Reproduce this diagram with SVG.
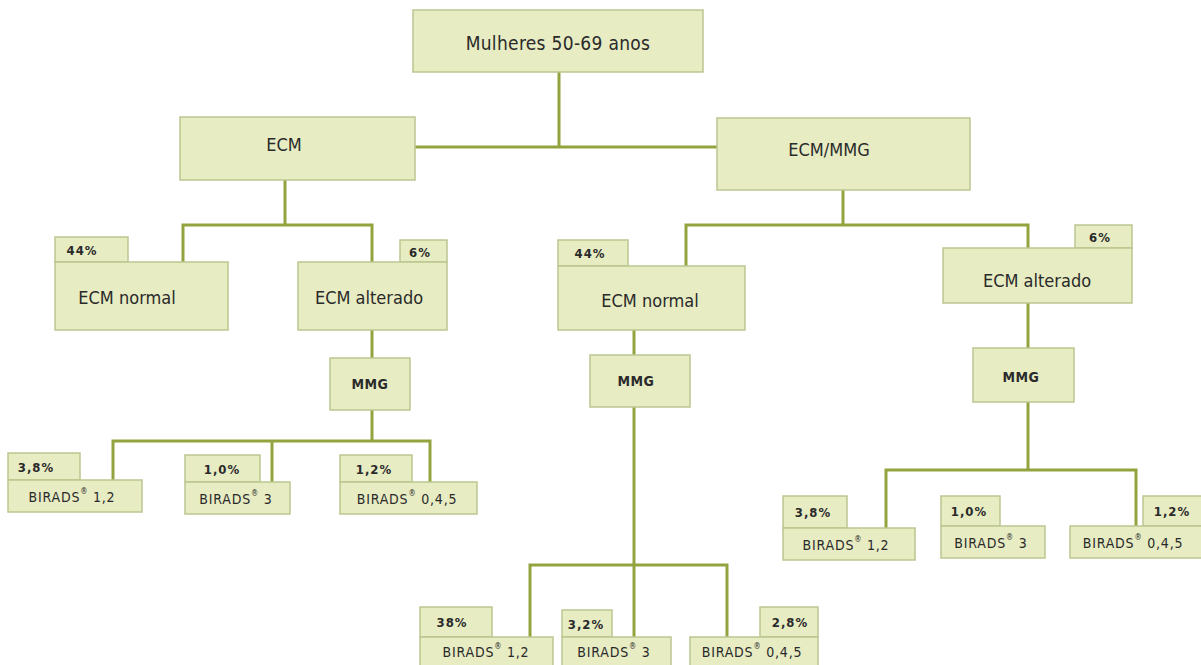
<svg xmlns="http://www.w3.org/2000/svg" width="1201" height="665" viewBox="0 0 1201 665">
<style>
.box{fill:#e7ecc3;stroke:#bcc690;stroke-width:1.5}
.c{fill:none;stroke:#93a43e;stroke-width:3}
text{font-family:'DejaVu Sans Condensed','DejaVu Sans',sans-serif;fill:#2a2a2a;text-anchor:middle;dominant-baseline:central}
.top{font-size:19px;letter-spacing:0.3px}
.big{font-size:18px}
.mid{font-size:14px;font-weight:bold;letter-spacing:0.5px}
.pct{font-size:13px;font-weight:bold;letter-spacing:1px}
.sm{font-size:14px;letter-spacing:0.8px}
.sup{font-size:8px}
</style>
<rect width="1201" height="665" fill="#fff"/>
<g id="connectors">
<path class="c" d="M559 72V147M415 147H717"/>
<path class="c" d="M285 180V225M183 262V225H372V262"/>
<path class="c" d="M843 190V225M686 266V225H1028V248"/>
<path class="c" d="M372 330V358M372 410V441M113 480V441H430V482M272 441V482"/>
<path class="c" d="M634 330V355M634 407V637M530 637V565H727V637"/>
<path class="c" d="M1028 303V348M1028 402V470M886 528V470H1136V526"/>
</g>
<g id="n-top"><rect class="box" x="413" y="10" width="290" height="62"/><text class="top" x="558" y="43">Mulheres 50-69 anos</text></g>
<g id="n-ecm"><rect class="box" x="180" y="117" width="235" height="63"/><text class="big" x="284" y="144">ECM</text></g>
<g id="n-ecmmmg"><rect class="box" x="717" y="118" width="253" height="72"/><text class="big" x="829" y="149">ECM/MMG</text></g>

<g id="n-l-normal"><rect class="box" x="55" y="237" width="73" height="25"/><text class="pct" x="82" y="250">44%</text><rect class="box" x="55" y="262" width="173" height="68"/><text class="big" x="127" y="297">ECM normal</text></g>
<g id="n-l-alt"><rect class="box" x="400" y="240" width="47" height="22"/><text class="pct" x="420" y="252">6%</text><rect class="box" x="298" y="262" width="149" height="68"/><text class="big" x="369" y="297">ECM alterado</text></g>
<g id="n-l-mmg"><rect class="box" x="330" y="358" width="80" height="52"/><text class="mid" x="370" y="384">MMG</text></g>

<g id="n-l-b1"><rect class="box" x="8" y="453" width="72" height="27"/><text class="pct" x="36" y="467">3,8%</text><rect class="box" x="8" y="480" width="134" height="32"/><text class="sm" x="72" y="497">BIRADS<tspan class="sup" dy="-6">®</tspan><tspan dy="6"> 1,2</tspan></text></g>
<g id="n-l-b2"><rect class="box" x="185" y="455" width="75" height="27"/><text class="pct" x="222" y="469">1,0%</text><rect class="box" x="185" y="482" width="105" height="32"/><text class="sm" x="236" y="499">BIRADS<tspan class="sup" dy="-6">®</tspan><tspan dy="6"> 3</tspan></text></g>
<g id="n-l-b3"><rect class="box" x="340" y="455" width="72" height="27"/><text class="pct" x="374" y="469">1,2%</text><rect class="box" x="340" y="482" width="137" height="32"/><text class="sm" x="407" y="499">BIRADS<tspan class="sup" dy="-6">®</tspan><tspan dy="6"> 0,4,5</tspan></text></g>

<g id="n-m-normal"><rect class="box" x="558" y="240" width="70" height="26"/><text class="pct" x="590" y="253">44%</text><rect class="box" x="558" y="266" width="187" height="64"/><text class="big" x="650" y="300">ECM normal</text></g>
<g id="n-m-mmg"><rect class="box" x="590" y="355" width="100" height="52"/><text class="mid" x="636" y="381">MMG</text></g>
<g id="n-m-b1"><rect class="box" x="420" y="607" width="72" height="30"/><text class="pct" x="452" y="622">38%</text><rect class="box" x="420" y="637" width="133" height="30"/><text class="sm" x="486" y="652">BIRADS<tspan class="sup" dy="-6">®</tspan><tspan dy="6"> 1,2</tspan></text></g>
<g id="n-m-b2"><rect class="box" x="562" y="610" width="50" height="27"/><text class="pct" x="586" y="624">3,2%</text><rect class="box" x="562" y="637" width="109" height="30"/><text class="sm" x="614" y="652">BIRADS<tspan class="sup" dy="-6">®</tspan><tspan dy="6"> 3</tspan></text></g>
<g id="n-m-b3"><rect class="box" x="760" y="607" width="58" height="30"/><text class="pct" x="790" y="622">2,8%</text><rect class="box" x="690" y="637" width="128" height="30"/><text class="sm" x="752" y="652">BIRADS<tspan class="sup" dy="-6">®</tspan><tspan dy="6"> 0,4,5</tspan></text></g>

<g id="n-r-alt"><rect class="box" x="1075" y="225" width="57" height="23"/><text class="pct" x="1100" y="237">6%</text><rect class="box" x="943" y="248" width="189" height="55"/><text class="big" x="1037" y="280">ECM alterado</text></g>
<g id="n-r-mmg"><rect class="box" x="973" y="348" width="101" height="54"/><text class="mid" x="1021" y="377">MMG</text></g>
<g id="n-r-b1"><rect class="box" x="783" y="496" width="64" height="32"/><text class="pct" x="813" y="512">3,8%</text><rect class="box" x="783" y="528" width="132" height="32"/><text class="sm" x="846" y="545">BIRADS<tspan class="sup" dy="-6">®</tspan><tspan dy="6"> 1,2</tspan></text></g>
<g id="n-r-b2"><rect class="box" x="941" y="496" width="59" height="30"/><text class="pct" x="969" y="511">1,0%</text><rect class="box" x="941" y="526" width="104" height="32"/><text class="sm" x="991" y="543">BIRADS<tspan class="sup" dy="-6">®</tspan><tspan dy="6"> 3</tspan></text></g>
<g id="n-r-b3"><rect class="box" x="1143" y="496" width="60" height="30"/><text class="pct" x="1172" y="511">1,2%</text><rect class="box" x="1070" y="526" width="133" height="32"/><text class="sm" x="1133" y="543">BIRADS<tspan class="sup" dy="-6">®</tspan><tspan dy="6"> 0,4,5</tspan></text></g>
</svg>
